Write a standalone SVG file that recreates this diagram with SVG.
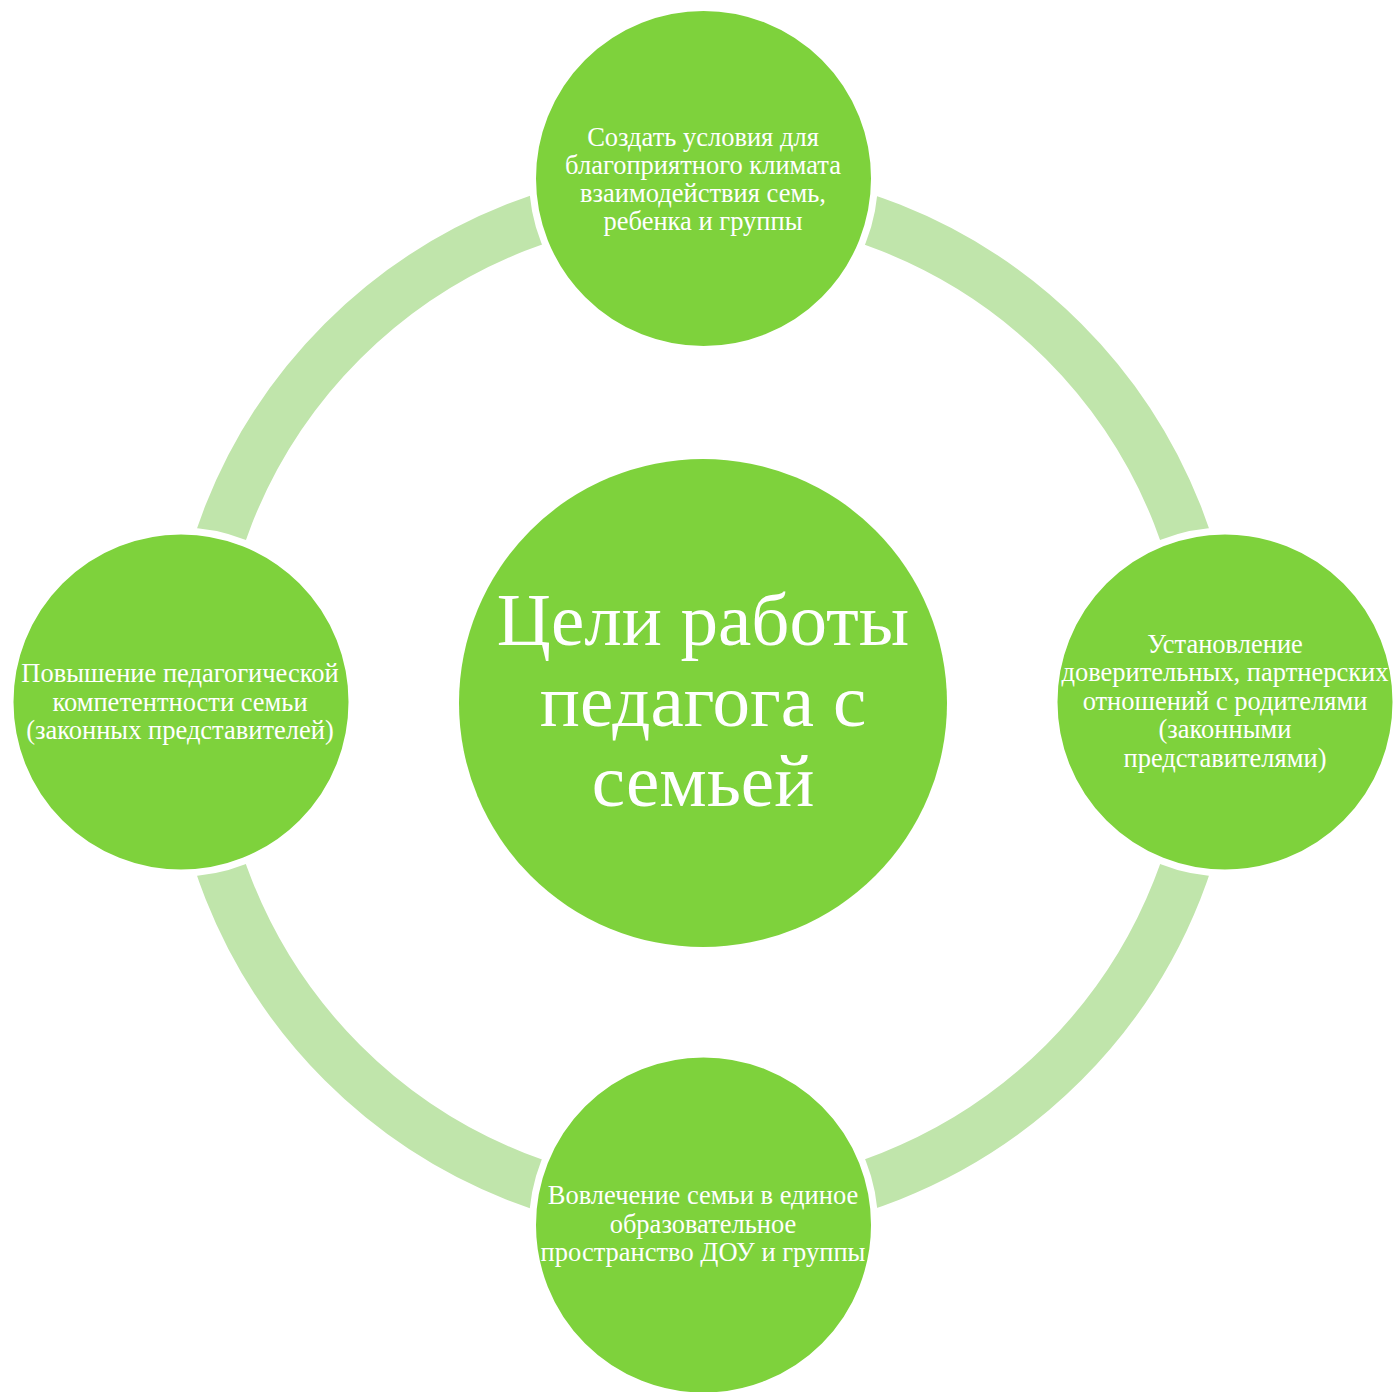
<svg xmlns="http://www.w3.org/2000/svg" width="1395" height="1392" viewBox="0 0 1395 1392">
<style>
.node{fill:#7ED23C;stroke:#FFFFFF;stroke-width:7}
.t{font-family:"Liberation Serif","Times New Roman",serif;fill:#FFFFFF;text-anchor:middle;font-size:26.5px}
.big{font-size:75px}
</style>
<rect width="1395" height="1392" fill="#FFFFFF"/>
<g id="connectors">
<circle cx="703" cy="702" r="510" fill="none" stroke="#C0E5AB" stroke-width="50"/>
</g>
<g id="center">
<circle cx="703" cy="703" r="244" fill="#7ED23C"/>
<text class="t big" x="703" y="645">Цели работы</text>
<text class="t big" x="703" y="726">педагога с</text>
<text class="t big" x="703" y="806">семьей</text>
</g>
<g id="node-top">
<circle class="node" cx="703.5" cy="178.5" r="171"/>
<text class="t" x="703" y="146">Создать условия для</text>
<text class="t" x="703" y="174">благоприятного климата</text>
<text class="t" x="703" y="202">взаимодействия семь,</text>
<text class="t" x="703" y="230">ребенка и группы</text>
</g>
<g id="node-right">
<circle class="node" cx="1225" cy="702" r="171"/>
<text class="t" x="1225" y="653">Установление</text>
<text class="t" x="1225" y="681">доверительных, партнерских</text>
<text class="t" x="1225" y="710">отношений с родителями</text>
<text class="t" x="1225" y="738">(законными</text>
<text class="t" x="1225" y="767">представителями)</text>
</g>
<g id="node-bottom">
<circle class="node" cx="703.5" cy="1225" r="171"/>
<text class="t" x="703" y="1204">Вовлечение семьи в единое</text>
<text class="t" x="703" y="1233">образовательное</text>
<text class="t" x="703" y="1261">пространство ДОУ и группы</text>
</g>
<g id="node-left">
<circle class="node" cx="181" cy="702" r="171"/>
<text class="t" x="180" y="682">Повышение педагогической</text>
<text class="t" x="180" y="711">компетентности семьи</text>
<text class="t" x="180" y="739">(законных представителей)</text>
</g>
</svg>
